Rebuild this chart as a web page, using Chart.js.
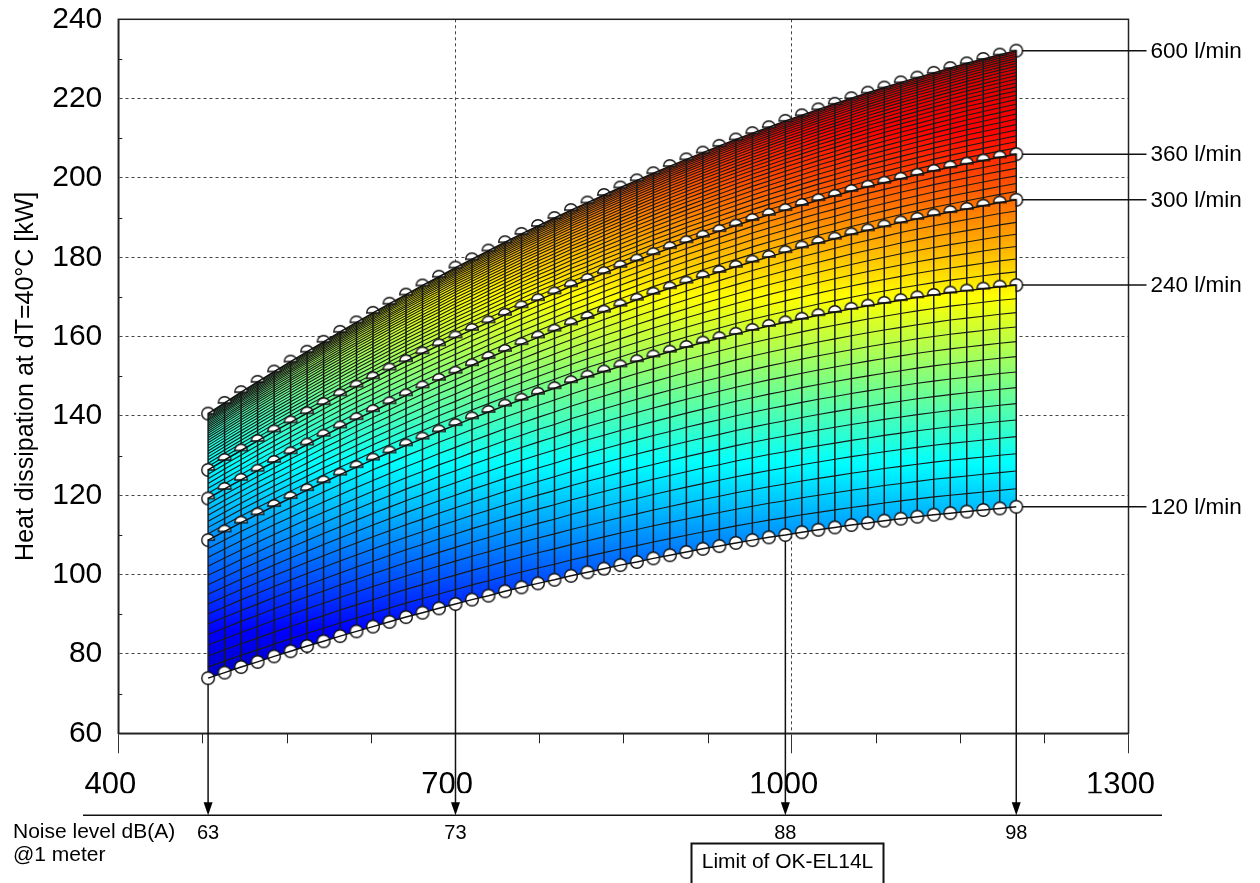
<!DOCTYPE html>
<html>
<head>
<meta charset="utf-8">
<script src="https://cdn.jsdelivr.net/npm/chart.js@4.4.0/dist/chart.umd.min.js"></script>
<style>
  html, body { margin: 0; padding: 0; background: #fff; }
  #wrap { width: 1260px; height: 883px; }
</style>
</head>
<body>
<div id="wrap"><canvas id="chart" width="1260" height="883"></canvas></div>
<script>
// x positions of the measured points (same for every flow curve)
const flowX = [480.0, 494.7, 509.4, 524.1, 538.8, 553.5, 568.2, 582.9, 597.6, 612.2,
  626.9, 641.6, 656.3, 671.0, 685.7, 700.4, 715.1, 729.8, 744.5, 759.2,
  773.9, 788.6, 803.3, 818.0, 832.7, 847.3, 862.0, 876.7, 891.4, 906.1,
  920.8, 935.5, 950.2, 964.9, 979.6, 994.3, 1009.0, 1023.7, 1038.4, 1053.1,
  1067.8, 1082.4, 1097.1, 1111.8, 1126.5, 1141.2, 1155.9, 1170.6, 1185.3, 1200.0];

// heat dissipation [kW] per flow rate
const flow600 = [140.6, 143.3, 146.0, 148.6, 151.2, 153.7, 156.2, 158.7, 161.2, 163.6,
  166.0, 168.3, 170.6, 172.9, 175.1, 177.4, 179.5, 181.7, 183.8, 185.9,
  187.9, 189.9, 191.9, 193.8, 195.7, 197.6, 199.4, 201.2, 203.0, 204.7,
  206.4, 208.1, 209.7, 211.3, 212.8, 214.4, 215.8, 217.3, 218.7, 220.1,
  221.5, 222.8, 224.1, 225.3, 226.5, 227.7, 228.9, 230.0, 231.1, 232.1];
const flow360 = [126.4, 128.9, 131.3, 133.7, 136.1, 138.4, 140.7, 143.0, 145.2, 147.4,
  149.5, 151.7, 153.8, 155.8, 157.8, 159.8, 161.7, 163.6, 165.5, 167.4,
  169.2, 170.9, 172.7, 174.3, 176.0, 177.6, 179.2, 180.8, 182.3, 183.8,
  185.2, 186.6, 188.0, 189.4, 190.7, 191.9, 193.2, 194.4, 195.5, 196.7,
  197.8, 198.8, 199.8, 200.8, 201.8, 202.7, 203.6, 204.4, 205.2, 206.0];
const flow300 = [119.2, 121.6, 123.9, 126.2, 128.4, 130.6, 132.8, 135.0, 137.1, 139.2,
  141.2, 143.2, 145.2, 147.2, 149.1, 150.9, 152.8, 154.6, 156.4, 158.1,
  159.8, 161.5, 163.1, 164.7, 166.3, 167.8, 169.3, 170.8, 172.2, 173.6,
  175.0, 176.3, 177.6, 178.9, 180.1, 181.3, 182.5, 183.6, 184.7, 185.8,
  186.8, 187.8, 188.8, 189.7, 190.6, 191.4, 192.2, 193.0, 193.8, 194.5];
const flow240 = [108.7, 110.9, 113.1, 115.2, 117.3, 119.3, 121.3, 123.3, 125.2, 127.1,
  129.0, 130.8, 132.6, 134.3, 136.1, 137.7, 139.4, 141.0, 142.6, 144.1,
  145.6, 147.0, 148.5, 149.9, 151.2, 152.5, 153.8, 155.0, 156.2, 157.4,
  158.5, 159.6, 160.7, 161.7, 162.7, 163.6, 164.5, 165.4, 166.2, 167.0,
  167.8, 168.5, 169.2, 169.9, 170.5, 171.1, 171.6, 172.1, 172.6, 173.0];
const flow120 = [73.9, 75.3, 76.7, 78.0, 79.4, 80.7, 82.0, 83.2, 84.5, 85.7,
  86.9, 88.1, 89.3, 90.4, 91.5, 92.6, 93.7, 94.7, 95.8, 96.8,
  97.8, 98.7, 99.7, 100.6, 101.5, 102.4, 103.2, 104.1, 104.9, 105.7,
  106.5, 107.2, 108.0, 108.7, 109.4, 110.0, 110.7, 111.3, 111.9, 112.5,
  113.0, 113.6, 114.1, 114.6, 115.1, 115.5, 115.9, 116.3, 116.7, 117.1];

const curveLabels = ['600 l/min', '360 l/min', '300 l/min', '240 l/min', '120 l/min'];

// noise level scale under the chart
const noiseX = [480, 700.4, 994.3, 1200];
const noiseLabels = ['63', '73', '88', '98'];

const xTicks = [400, 700, 1000, 1300];
const xMinorTicks = [475, 550, 625, 775, 850, 925, 1075, 1150, 1225];
const yMinorTicks = [70, 90, 110, 130, 150, 170, 190, 210, 230];

// colour map (jet) stops in kW
const jetValues = [65, 86, 128, 170, 212, 233];
const jetColors = ['#00008f', '#0000ff', '#00ffff', '#ffff00', '#ff0000', '#c40000'];

// mesh subdivisions between neighbouring curves (bottom to top) and their bunching
const meshCounts = [14, 7, 6, 26];
const meshBunch = [0.85, 0.9, 0.9, 0.4];

const FONT = "'Liberation Sans', Arial, Helvetica, sans-serif";
Chart.defaults.font.family = FONT;
Chart.defaults.color = '#000';

const curves = [flow600, flow360, flow300, flow240, flow120];
const pts = arr => arr.map((v, i) => ({ x: flowX[i], y: v }));

// marker sprites
function sprite(kind) {
  const c = document.createElement('canvas');
  c.width = 18; c.height = 18;
  const g = c.getContext('2d');
  const cx = 9, cy = 9, r = 6.3;
  g.beginPath();
  if (kind === 'full') {
    g.arc(cx, cy, r, 0, Math.PI * 2);
  } else if (kind === 'dome') {
    g.arc(cx, cy, r, Math.PI, 0);
    g.closePath();
  } else if (kind === 'left') {
    g.moveTo(cx, cy);
    g.arc(cx, cy, r, 0, Math.PI / 2, true);
    g.closePath();
  } else {
    g.moveTo(cx, cy);
    g.arc(cx, cy, r, Math.PI / 2, Math.PI, true);
    g.closePath();
  }
  g.fillStyle = '#fff';
  g.fill();
  g.lineWidth = 1.4;
  g.strokeStyle = '#111';
  g.stroke();
  return c;
}
const marks = { full: sprite('full'), dome: sprite('dome'), left: sprite('left'), right: sprite('right') };

function jetFill(context) {
  const chart = context.chart;
  if (!chart.chartArea) return 'rgba(0,0,0,0)';
  const ys = chart.scales.y;
  const v0 = jetValues[0], v1 = jetValues[jetValues.length - 1];
  const g = chart.ctx.createLinearGradient(0, ys.getPixelForValue(v0), 0, ys.getPixelForValue(v1));
  jetValues.forEach((v, i) => g.addColorStop((v - v0) / (v1 - v0), jetColors[i]));
  return g;
}

const datasets = [];
// curve lines (top layer)
curves.forEach((arr, i) => {
  datasets.push({
    label: curveLabels[i],
    data: pts(arr),
    borderColor: '#111',
    borderWidth: 1.5,
    pointRadius: 0,
    fill: i === 0 ? 4 : false,
    backgroundColor: i === 0 ? jetFill : 'rgba(0,0,0,0)',
    order: 0
  });
});
// markers (under the lines)
curves.forEach((arr, i) => {
  const bottom = i === curves.length - 1;
  datasets.push({
    label: curveLabels[i] + ' points',
    data: pts(arr),
    showLine: false,
    pointRadius: 7,
    pointStyle: arr.map((v, k) => {
      if (bottom) return marks.full;
      if (k === 0) return marks.left;
      if (k === arr.length - 1) return marks.right;
      return marks.dome;
    }),
    order: 1
  });
});

const mesh = {
  id: 'mesh',
  beforeDatasetsDraw(chart) {
    const { ctx, chartArea, scales: { x, y } } = chart;
    const stack = [flow120, flow240, flow300, flow360, flow600];
    ctx.save();
    ctx.beginPath();
    ctx.rect(chartArea.left, chartArea.top, chartArea.width, chartArea.height);
    ctx.clip();
    ctx.strokeStyle = '#1a1a1a';
    ctx.lineWidth = 1.1;
    for (let b = 0; b < 4; b++) {
      const n = meshCounts[b], a = meshBunch[b];
      for (let s = 1; s < n; s++) {
        const u = s / n;
        const t = a * u + (1 - a) * (2 * u - u * u);
        ctx.beginPath();
        flowX.forEach((v, i) => {
          const y0 = y.getPixelForValue(stack[b][i]);
          const y1 = y.getPixelForValue(stack[b + 1][i]);
          const px = x.getPixelForValue(v);
          if (i === 0) ctx.moveTo(px, y0 + (y1 - y0) * t);
          else ctx.lineTo(px, y0 + (y1 - y0) * t);
        });
        ctx.stroke();
      }
    }
    ctx.lineWidth = 1.5;
    flowX.forEach((v, i) => {
      const px = x.getPixelForValue(v);
      ctx.beginPath();
      ctx.moveTo(px, y.getPixelForValue(flow120[i]));
      ctx.lineTo(px, y.getPixelForValue(flow600[i]));
      ctx.stroke();
    });
    ctx.restore();
  }
};

const extras = {
  id: 'extras',
  afterDraw(chart) {
    const { ctx, chartArea: ca, scales: { x, y } } = chart;
    ctx.save();
    // plot frame
    ctx.strokeStyle = '#222';
    ctx.lineWidth = 1.5;
    ctx.strokeRect(ca.left, ca.top, ca.width, ca.height);
    // minor ticks
    ctx.lineWidth = 1;
    yMinorTicks.forEach(v => {
      const py = Math.round(y.getPixelForValue(v)) + 0.5;
      ctx.beginPath(); ctx.moveTo(ca.left, py); ctx.lineTo(ca.left + 4, py); ctx.stroke();
    });
    xMinorTicks.forEach(v => {
      const px = Math.round(x.getPixelForValue(v)) + 0.5;
      ctx.beginPath(); ctx.moveTo(px, ca.bottom); ctx.lineTo(px, ca.bottom + 10); ctx.stroke();
    });
    // leader lines and flow labels
    ctx.strokeStyle = '#111';
    ctx.lineWidth = 1.5;
    ctx.fillStyle = '#000';
    ctx.font = '22.5px ' + FONT;
    ctx.textBaseline = 'middle';
    ctx.textAlign = 'left';
    const last = flowX.length - 1;
    const xe = x.getPixelForValue(flowX[last]);
    curves.forEach((arr, i) => {
      const py = y.getPixelForValue(arr[last]);
      ctx.beginPath(); ctx.moveTo(xe + 6, py); ctx.lineTo(ca.right + 18, py); ctx.stroke();
      ctx.fillText(curveLabels[i], ca.right + 22, py + 1);
    });
    // noise level scale
    const ny = ca.bottom + 82;
    ctx.lineWidth = 1.5;
    ctx.beginPath(); ctx.moveTo(83, ny); ctx.lineTo(1162, ny); ctx.stroke();
    ctx.font = '20px ' + FONT;
    ctx.textAlign = 'center';
    noiseX.forEach((v, i) => {
      const k = flowX.indexOf(v);
      const px = x.getPixelForValue(v);
      const py = y.getPixelForValue(flow120[k]) + 6;
      ctx.beginPath(); ctx.moveTo(px, py); ctx.lineTo(px, ny - 10); ctx.stroke();
      ctx.beginPath(); ctx.moveTo(px - 4.5, ny - 13); ctx.lineTo(px + 4.5, ny - 13); ctx.lineTo(px, ny); ctx.closePath(); ctx.fill();
      ctx.fillText(noiseLabels[i], px, ny + 18);
    });
    ctx.font = '21px ' + FONT;
    ctx.textAlign = 'left';
    ctx.textBaseline = 'alphabetic';
    ctx.fillText('Noise level dB(A)', 13, 838);
    ctx.fillText('@1 meter', 13, 861);
    // limit box
    ctx.lineWidth = 2;
    ctx.strokeRect(691.5, 843.5, 192, 50);
    ctx.textAlign = 'center';
    ctx.textBaseline = 'middle';
    ctx.fillText('Limit of OK-EL14L', 787.5, 862);
    ctx.restore();
  }
};

new Chart(document.getElementById('chart'), {
  type: 'line',
  data: { datasets },
  options: {
    responsive: false,
    animation: false,
    devicePixelRatio: 1,
    layout: { padding: { left: 0, top: 19.3, right: 131.5, bottom: 89.7 } },
    plugins: {
      legend: { display: false },
      tooltip: { enabled: false },
      filler: { drawTime: 'beforeDatasetsDraw' }
    },
    scales: {
      x: {
        type: 'linear',
        min: 400,
        max: 1300,
        afterBuildTicks: s => { s.ticks = xTicks.map(v => ({ value: v })); },
        afterFit: s => { s.height = 60; s.paddingLeft = 0; s.paddingRight = 0; },
        ticks: { font: { size: 31 }, color: '#000', padding: 14, labelOffset: -8, maxRotation: 0, autoSkip: false, callback: v => String(v) },
        grid: {
          color: c => (c.tick && (c.tick.value === 400 || c.tick.value === 1300)) ? 'rgba(0,0,0,0)' : '#444',
          lineWidth: 1,
          tickLength: 20,
          tickColor: '#333',
          tickWidth: 1
        },
        border: { display: true, color: '#222', width: 1.5, dash: [3, 3] }
      },
      y: {
        min: 60,
        max: 240,
        afterFit: s => { s.width = 118.3; s.paddingTop = 0; s.paddingBottom = 0; },
        ticks: { stepSize: 20, font: { size: 30 }, color: '#000', padding: 16, callback: v => String(v) },
        grid: {
          color: c => (c.tick && (c.tick.value === 60 || c.tick.value === 240)) ? 'rgba(0,0,0,0)' : '#444',
          lineWidth: 1,
          drawTicks: false
        },
        border: { display: true, color: '#222', width: 1.5, dash: [3, 3] },
        title: {
          display: true,
          text: 'Heat dissipation at dT=40°C [kW]',
          font: { size: 25 },
          color: '#000',
          padding: { top: 11, bottom: 0 }
        }
      }
    }
  },
  plugins: [mesh, extras]
});
</script>
</body>
</html>
